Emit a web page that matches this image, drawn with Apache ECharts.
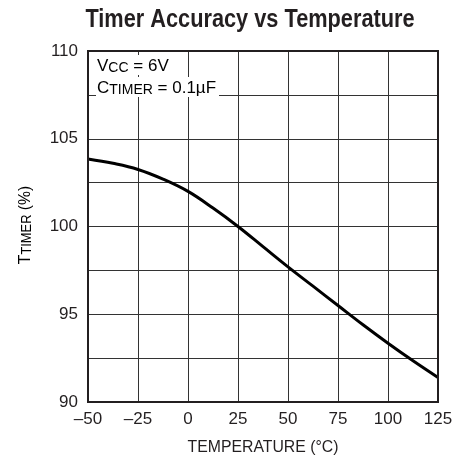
<!DOCTYPE html>
<html>
<head>
<meta charset="utf-8">
<script src="https://cdn.jsdelivr.net/npm/echarts@6/dist/echarts.min.js"></script>
<style>
  html, body { margin: 0; padding: 0; background: #fff; }
  #chart { width: 472px; height: 464px; }
</style>
</head>
<body>
<div id="chart"></div>
<script>
// data
var temps = [-50, -37.5, -25, -12.5, 0, 12.5, 25, 37.5, 50, 62.5, 75, 87.5, 100, 112.5, 125];
var accuracy = [103.85, 103.6, 103.25, 102.7, 102.0, 101.05, 100.0, 98.85, 97.7, 96.6, 95.5, 94.4, 93.35, 92.35, 91.4];
var xTicks = [-50, -25, 0, 25, 50, 75, 100, 125];
var yTicks = [90, 95, 100, 105, 110];

var FONT = '"Liberation Sans", Arial, sans-serif';
var INK = '#231f20';

var points = temps.map(function (t, i) { return [t, accuracy[i]]; });

var chart = echarts.init(document.getElementById('chart'));

var subRich = {
  a: { fontFamily: FONT, fontSize: 17, color: INK, lineHeight: 20, verticalAlign: 'bottom' },
  b: { fontFamily: FONT, fontSize: 14, color: INK, lineHeight: 2, verticalAlign: 'bottom' }
};

var option = {
  animation: false,
  grid: { left: 88, right: 34, top: 51, bottom: 62 },
  xAxis: {
    type: 'value',
    min: -50, max: 125, interval: 25,
    axisLine: { onZero: false, lineStyle: { color: INK, width: 2 } },
    axisTick: { show: false },
    axisLabel: {
      fontFamily: FONT, fontSize: 17, color: INK, margin: 9,
      formatter: function (v) { return xTicks.indexOf(v) >= 0 ? String(v).replace('-', '\u2013') : ''; }
    },
    splitLine: { show: true, lineStyle: { color: '#333', width: 1 } }
  },
  yAxis: {
    type: 'value',
    min: 90, max: 110, interval: 2.5,
    axisLine: { show: true, onZero: false, lineStyle: { color: INK, width: 2 } },
    axisTick: { show: false },
    axisLabel: {
      fontFamily: FONT, fontSize: 17, color: INK, margin: 10,
      formatter: function (v) { return yTicks.indexOf(v) >= 0 ? String(v) : ''; }
    },
    splitLine: { show: true, lineStyle: { color: '#333', width: 1 } }
  },
  graphic: [
    {
      type: 'text', x: 250, y: 20, scaleX: 0.87,
      style: {
        text: 'Timer Accuracy vs Temperature', align: 'center', verticalAlign: 'middle',
        fontFamily: FONT, fontSize: 25, fontWeight: 'bold', fill: INK
      }
    },
    // plot frame
    {
      type: 'rect', shape: { x: 88, y: 51, width: 350, height: 351 },
      style: { fill: 'none', stroke: INK, lineWidth: 2 }, z: 10
    },
    {
      type: 'text', x: 24, y: 225, rotation: Math.PI / 2, scaleX: 0.92,
      style: {
        text: '{a|T}{b|TIMER}{a| (%)}',
        align: 'center', verticalAlign: 'middle',
        rich: subRich
      }
    },
    {
      type: 'text', x: 263, y: 447, scaleX: 0.93,
      style: {
        text: 'TEMPERATURE (\u00B0C)', align: 'center', verticalAlign: 'middle',
        fontFamily: FONT, fontSize: 17, fill: INK
      }
    },
    {
      type: 'text', x: 96, y: 55, z: 20,
      style: {
        text: '{a|V}{b|CC}{a| = 6V}',
        backgroundColor: '#fff', padding: [0, 2, 0, 1],
        rich: subRich
      }
    },
    {
      type: 'text', x: 96, y: 77, z: 20,
      style: {
        text: '{a|C}{b|TIMER}{a| = 0.1\u00B5F}',
        backgroundColor: '#fff', padding: [0, 3, 0, 1],
        rich: subRich
      }
    }
  ],
  series: [{
    type: 'line',
    data: points,
    smooth: 0.4,
    showSymbol: false,
    lineStyle: { color: '#000', width: 3 },
    z: 5
  }]
};

chart.setOption(option);
</script>
</body>
</html>
